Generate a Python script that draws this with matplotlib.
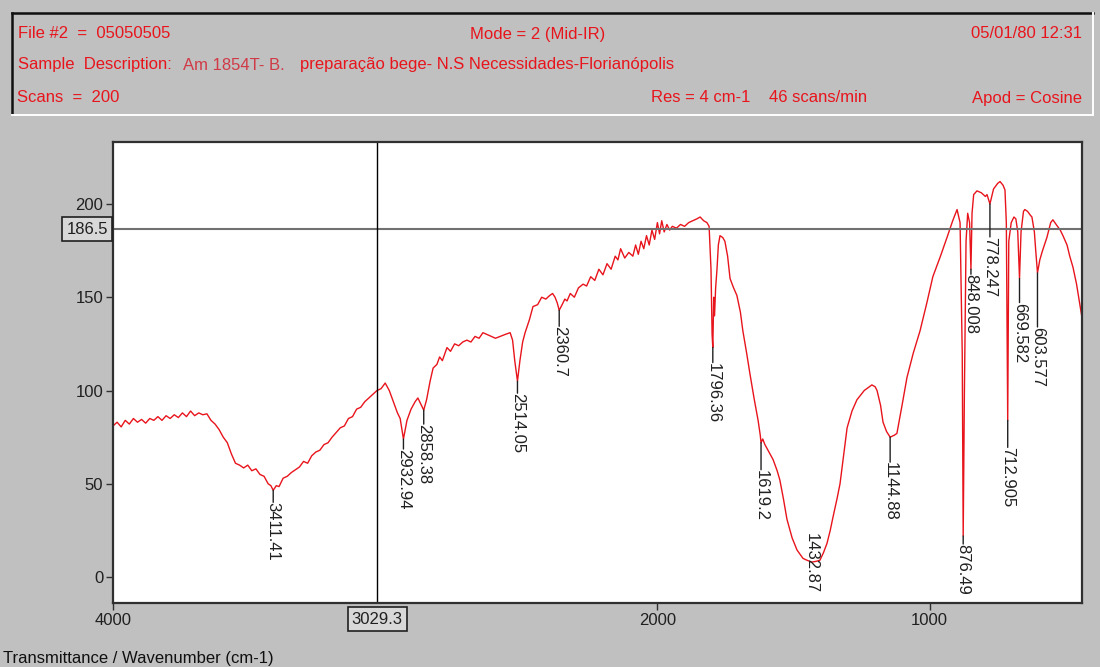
import matplotlib
matplotlib.use("Agg")
import matplotlib.pyplot as plt, numpy as np
from matplotlib.lines import Line2D

# espectro IR (numero de onda cm-1, transmitancia)
wn = [4000, 3985, 3970, 3955, 3940, 3925, 3910, 3895, 3880, 3865, 3850, 3835, 3820, 3805, 3790,
      3775, 3760, 3745, 3730, 3715, 3700, 3685, 3670, 3655, 3640, 3625, 3610, 3595, 3580, 3565,
      3550, 3535, 3520, 3505, 3490, 3475, 3460, 3445, 3430, 3420, 3411.41, 3400, 3390, 3375, 3360,
      3345, 3330, 3315, 3300, 3285, 3270, 3255, 3240, 3225, 3210, 3195, 3180, 3165, 3150, 3135,
      3120, 3105, 3090, 3075, 3060, 3045, 3030, 3015, 3000, 2985, 2970, 2955, 2945, 2932.94, 2920,
      2905, 2890, 2880, 2870, 2858.38, 2848, 2835, 2824, 2810, 2800, 2790, 2773, 2760, 2745, 2730,
      2715, 2700, 2685, 2670, 2655, 2641, 2625, 2610, 2595, 2578, 2560, 2541, 2532, 2524, 2514.05,
      2505, 2495, 2486, 2470, 2457, 2440, 2425, 2410, 2395, 2385, 2376, 2368, 2360.7, 2350, 2340,
      2332, 2320, 2305, 2290, 2273, 2260, 2245, 2230, 2215, 2200, 2185, 2170, 2155, 2145, 2135,
      2120, 2105, 2090, 2080, 2070, 2060, 2050, 2040, 2030, 2020, 2010, 2000, 1992, 1984, 1975,
      1965, 1955, 1945, 1930, 1915, 1900, 1885, 1870, 1855, 1843, 1830, 1818, 1810, 1803, 1799,
      1796.36, 1793, 1790, 1786, 1781, 1776, 1770, 1760, 1752, 1742, 1733, 1720, 1708, 1695, 1686,
      1672, 1660, 1645, 1630, 1622, 1619.2, 1613, 1605, 1590, 1575, 1560, 1550, 1537, 1524, 1505,
      1487, 1465, 1450, 1432.87, 1415, 1403, 1390, 1377, 1365, 1355, 1340, 1329, 1315, 1303, 1285,
      1267, 1240, 1212, 1200, 1193, 1180, 1171, 1158, 1144.88, 1130, 1120, 1100, 1083, 1060, 1035,
      1010, 988, 960, 936, 915, 899, 888, 880, 876.49, 872, 866, 860, 853, 848.008, 844,
      838, 826, 810, 795, 789, 778.247, 765, 750, 741, 730, 723, 718, 712.905, 709, 700,
      690, 683, 676, 669.582, 664, 655, 650, 640, 630, 624, 615, 610, 603.577, 595, 585,
      569, 555, 547, 535, 520, 510, 495, 485, 473, 460, 448, 440]
tr = [81, 83, 80.5, 84, 82, 85, 83, 84.5, 82.5, 85, 84, 86, 84, 86.5, 85,
      87, 85.5, 88, 86, 89, 86.5, 88, 87, 87.5, 84, 82, 79, 75, 72, 66,
      61, 60, 58.5, 60, 57, 58, 55, 54, 50, 49, 46.5, 49, 48.5, 53, 54,
      56, 57.5, 59, 62, 61, 65, 67, 68, 71, 72, 75, 77.5, 80, 81, 85,
      86, 90, 91, 94, 96, 98, 100, 101, 104, 100, 94, 88, 85, 74, 84,
      90, 94, 96, 93, 89.5, 95, 105, 112, 114, 118, 116, 123, 121, 125, 124,
      126, 127, 126, 129, 128, 131, 130, 129, 128, 129, 130, 131, 127, 116, 105,
      116, 126, 131, 138, 145, 146, 150, 149, 151, 152, 150, 147, 143, 146, 149,
      148, 152, 150, 155, 157, 156, 161, 159, 165, 162, 168, 165, 172, 170, 176,
      171, 174, 172, 178, 173, 180, 176, 183, 178, 186, 181, 190, 184, 191, 185,
      189, 186, 188, 187, 189, 188, 190, 191, 192, 193, 191, 190, 188, 165, 130,
      123, 150, 140, 155, 165, 178, 183, 182, 180, 172, 160, 155, 151, 142, 132,
      120, 109, 96, 84, 76, 72, 74, 71, 67, 63, 57, 52, 42, 31, 21,
      14.5, 10, 9, 8, 8.5, 9, 13, 18, 25, 32, 42, 50, 66, 80, 89,
      95, 100, 103, 102, 100, 92, 83, 78, 75, 76, 77, 93, 107, 120, 132,
      147, 161, 172, 182, 191, 197, 190, 120, 22, 100, 180, 195, 190, 165, 195,
      205, 207, 206, 204, 205, 200, 208, 211, 212, 210, 207.5, 190, 84, 180, 190,
      193, 192, 185, 160, 185, 196, 197, 196, 194, 193, 185, 175, 163, 170, 175,
      182, 190, 191.5, 189, 186, 183, 178, 172, 166, 157, 146, 139]

# picos marcados
picos = [3411.41, 2932.94, 2858.38, 2514.05, 2360.7, 1796.36, 1619.2, 1432.87,
         1144.88, 876.49, 848.008, 778.247, 712.905, 669.582, 603.577]
picos_txt = ["3411.41", "2932.94", "2858.38", "2514.05", "2360.7", "1796.36", "1619.2", "1432.87",
             "1144.88", "876.49", "848.008", "778.247", "712.905", "669.582", "603.577"]
lead = [12, 10, 14, 12, 16, 15, 27, -29, 25, 8, 5, 33, 27, 24, 54]   # px abaixo do pico

yticks = [0, 50, 100, 150, 200]
xticks = [4000, 2000, 1000]
cursor_x = 3029.3
cursor_y = 186.5

W, H = 1100, 667
def fx(x): return x / W
def fy(y): return 1 - y / H

red = "#e8141c"
gray = "#c0c0c0"
plt.rcParams["font.family"] = ["Liberation Sans", "DejaVu Sans"]

fig = plt.figure(figsize=(11, 6.67), dpi=100, facecolor=gray)

# cabecalho
fig.add_artist(Line2D([fx(12), fx(1093)], [fy(13), fy(13)], color="#101010", lw=1.8))
fig.add_artist(Line2D([fx(12), fx(12)], [fy(13), fy(114)], color="#101010", lw=1.8))
fig.add_artist(Line2D([fx(12), fx(1093)], [fy(115), fy(115)], color="white", lw=1.4))
fig.add_artist(Line2D([fx(1093), fx(1093)], [fy(13), fy(115)], color="white", lw=1.4))

hdr = [(18, 34, "File #2  =  05050505", "left", red),
       (470, 34, "Mode = 2 (Mid-IR)", "left", red),
       (1082, 34, "05/01/80 12:31", "right", red),
       (18, 65, "Sample  Description:", "left", red),
       (183, 65, "Am 1854T- B.", "left", "#d03a46"),
       (300, 65, "preparação bege- N.S Necessidades-Florianópolis", "left", red),
       (17, 98, "Scans  =  200", "left", red),
       (651, 98, "Res = 4 cm-1", "left", red),
       (769, 98, "46 scans/min", "left", red),
       (1082, 98, "Apod = Cosine", "right", red)]
for x, y, s, ha, c in hdr:
    fig.text(fx(x), fy(y), s, color=c, fontsize=12, ha=ha, va="center")

ax = fig.add_axes([fx(113), fy(603), (1082 - 113) / W, (603 - 142) / H])
ax.set_facecolor("white")
ax.plot(wn, tr, color=red, lw=1.0)
ax.set_xlim(4000, 440)
ax.set_ylim(-13.9, 233.2)

ax.set_yticks(yticks)
ax.set_xticks(xticks)
ax.tick_params(direction="out", length=5, width=1, color="#303030", labelcolor="#202020",
               labelsize=12, pad=2)
for s in ax.spines.values():
    s.set_color("#303030")
    s.set_linewidth(1.6)

# cursores
ax.axhline(cursor_y, color="#707070", lw=1.5)
ax.axvline(cursor_x, color="black", lw=1.0)
box = dict(boxstyle="square,pad=0.25", fc="#d8d8d8", ec="#202020", lw=1.2)
ax.annotate("%.1f" % cursor_y, xy=(0, cursor_y), xycoords=("axes fraction", "data"),
            xytext=(-5, 0), textcoords="offset pixels", ha="right", va="center",
            fontsize=12, color="#202020", bbox=box, annotation_clip=False)
ax.annotate("%.1f" % cursor_x, xy=(cursor_x, 0), xycoords=("data", "axes fraction"),
            xytext=(0, -16), textcoords="offset pixels", ha="center", va="center",
            fontsize=12, color="#202020", bbox=box, annotation_clip=False)

# marcas dos picos
ypic = np.interp(picos, wn[::-1], tr[::-1])
for p, t, s, l in zip(picos, ypic, picos_txt, lead):
    if l > 0:
        ax.annotate("", xy=(p, t), xytext=(0, -l), textcoords="offset pixels",
                    arrowprops=dict(arrowstyle="-", color="#202020", lw=1, shrinkA=0, shrinkB=0))
    ax.annotate(s, xy=(p, t), xytext=(0, -l), textcoords="offset pixels",
                rotation=-90, ha="center", va="top", fontsize=12, color="#202020")

fig.text(fx(3), fy(658), "Transmittance / Wavenumber (cm-1)", fontsize=12, color="#101010",
         ha="left", va="center")

plt.savefig("out.png", dpi=100, facecolor=gray)
